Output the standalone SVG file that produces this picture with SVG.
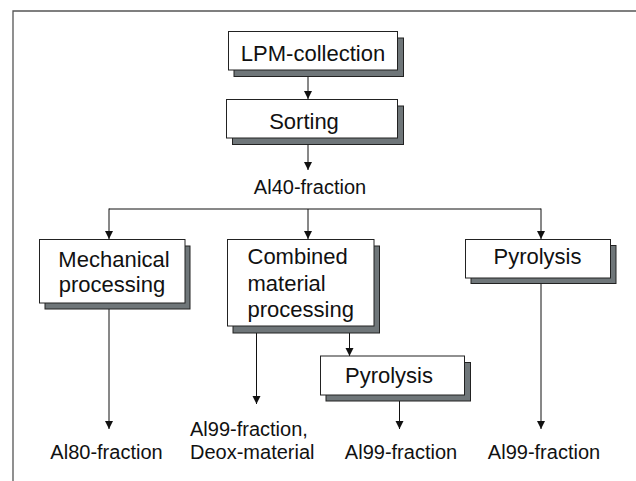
<svg xmlns="http://www.w3.org/2000/svg" width="636" height="481" viewBox="0 0 636 481">
<style>
  .frame { fill: none; stroke: #555; stroke-width: 1.3; }
  .box { fill: #fff; stroke: #222; stroke-width: 1; }
  .shadow { fill: #6f7679; stroke: #222; stroke-width: 1; }
  .t { font-family: "Liberation Sans", Arial, sans-serif; font-size: 22px; fill: #111; }
  .lbl { font-family: "Liberation Sans", Arial, sans-serif; font-size: 20px; fill: #111; }
  .c { text-anchor: middle; }
  .conn { fill: none; stroke: #111; stroke-width: 1; }
</style>
<defs>
  <marker id="arr" markerUnits="userSpaceOnUse" markerWidth="9" markerHeight="9" refX="8" refY="4" orient="auto">
    <path d="M0,0 L8,4 L0,8 Z" fill="#111"/>
  </marker>
</defs>
<rect width="636" height="481" fill="#fff"/>
<path class="frame" d="M13,481 L13,11 L636,11"/>

<g id="connectors">
  <line class="conn" x1="308" y1="70" x2="308" y2="99" marker-end="url(#arr)"/>
  <line class="conn" x1="308" y1="138" x2="308" y2="170" marker-end="url(#arr)"/>
  <line class="conn" x1="109" y1="209" x2="541" y2="209"/>
  <line class="conn" x1="109" y1="208.5" x2="109" y2="239" marker-end="url(#arr)"/>
  <line class="conn" x1="308" y1="209" x2="308" y2="239" marker-end="url(#arr)"/>
  <line class="conn" x1="541" y1="208.5" x2="541" y2="239" marker-end="url(#arr)"/>
  <line class="conn" x1="109" y1="303" x2="109" y2="429" marker-end="url(#arr)"/>
  <line class="conn" x1="256.5" y1="326" x2="256.5" y2="404" marker-end="url(#arr)"/>
  <line class="conn" x1="349.5" y1="326" x2="349.5" y2="356" marker-end="url(#arr)"/>
  <line class="conn" x1="399.5" y1="395" x2="399.5" y2="429" marker-end="url(#arr)"/>
  <line class="conn" x1="541" y1="278" x2="541" y2="429" marker-end="url(#arr)"/>
</g>

<g id="lpm-collection">
  <rect class="shadow" x="234" y="38" width="169.5" height="38.5"/>
  <rect class="box" x="228.5" y="31.5" width="169" height="38.5"/>
  <text class="t c" x="313" y="60.5">LPM-collection</text>
</g>
<g id="sorting">
  <rect class="shadow" x="232.5" y="106" width="171" height="38.5"/>
  <rect class="box" x="226.5" y="99.5" width="171" height="38.5"/>
  <text class="t c" x="304" y="128.5">Sorting</text>
</g>
<g id="al40">
  <text class="lbl c" x="310" y="193.5">Al40-fraction</text>
</g>
<g id="mechanical">
  <rect class="shadow" x="45" y="246" width="145" height="63"/>
  <rect class="box" x="39.5" y="239.5" width="145.5" height="63.5"/>
  <text class="t c" x="114" y="266.5">Mechanical</text>
  <text class="t c" x="112" y="292">processing</text>
</g>
<g id="combined">
  <rect class="shadow" x="233" y="246" width="146.5" height="87"/>
  <rect class="box" x="227.5" y="239.5" width="146.5" height="86.5"/>
  <text class="t" x="247.5" y="264">Combined</text>
  <text class="t" x="247.5" y="290.5">material</text>
  <text class="t" x="247.5" y="316.5">processing</text>
</g>
<g id="pyrolysis-right">
  <rect class="shadow" x="471" y="245.5" width="145" height="38"/>
  <rect class="box" x="465.5" y="239.5" width="145" height="38.5"/>
  <text class="t c" x="537.5" y="264">Pyrolysis</text>
</g>
<g id="pyrolysis-mid">
  <rect class="shadow" x="326" y="362.5" width="144.5" height="38.5"/>
  <rect class="box" x="320.5" y="356" width="144" height="39"/>
  <text class="t c" x="389" y="382.5">Pyrolysis</text>
</g>
<g id="al80">
  <text class="lbl c" x="106.5" y="458.5">Al80-fraction</text>
</g>
<g id="al99-deox">
  <text class="lbl" x="190" y="436">Al99-fraction,</text>
  <text class="lbl" x="190" y="458.5">Deox-material</text>
</g>
<g id="al99-mid">
  <text class="lbl c" x="401" y="458.5">Al99-fraction</text>
</g>
<g id="al99-right">
  <text class="lbl c" x="544" y="458.5">Al99-fraction</text>
</g>
</svg>
